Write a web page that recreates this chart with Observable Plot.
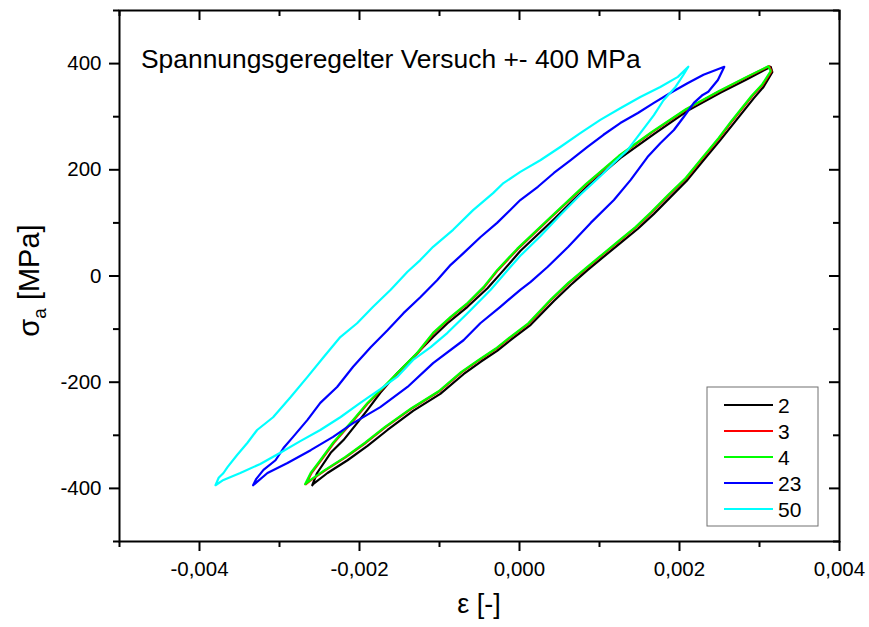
<!DOCTYPE html>
<html><head><meta charset="utf-8">
<script src="https://cdn.jsdelivr.net/npm/d3@7"></script>
<script src="https://cdn.jsdelivr.net/npm/@observablehq/plot@0.6"></script>
<style>body{margin:0;background:#fff;}</style>
</head><body><div id="chart"></div>
<script>
const cycles = ["2", "3", "4", "23", "50"];
const colors = ["#000000", "#ff0000", "#00ff00", "#0000ff", "#00ffff"];
const xMajor = [-0.004, -0.002, 0, 0.002, 0.004];
const xMinor = [-0.005, -0.003, -0.001, 0.001, 0.003];
const yMajor = [-400, -200, 0, 200, 400];
const yMinor = [-500, -300, -100, 100, 300, 500];
const title = "Spannungsgeregelter Versuch +- 400 MPa";

const strain2 = [-0.00259,-0.00253,-0.00236,-0.00220,-0.00203,-0.00190,-0.00174,-0.00153,-0.00133,-0.00108,-0.00090,-0.00065,-0.00040,-0.00024,0.00001,0.00043,0.00085,0.00126,0.00168,0.00210,0.00251,0.00285,0.00314,
  0.00316,0.00305,0.00293,0.00268,0.00251,0.00230,0.00210,0.00189,0.00168,0.00148,0.00126,0.00105,0.00085,0.00064,0.00043,0.00014,-0.00008,-0.00028,-0.00049,-0.00070,-0.00099,-0.00133,-0.00165,-0.00190,-0.00215,-0.00240,-0.00258,-0.00259];
const stress2 = [-394,-371,-333,-309,-277,-252,-220,-183,-153,-115,-89,-58,-23,4,47,107,169,222,267,311,345,371,394,
  384,356,335,288,256,218,181,149,117,89,62,36,11,-17,-47,-92,-117,-141,-162,-185,-222,-254,-290,-320,-347,-371,-392,-394];

const strain3 = [-0.00267,-0.00260,-0.00248,-0.00232,-0.00207,-0.00189,-0.00169,-0.00148,-0.00127,-0.00107,-0.00085,-0.00064,-0.00044,-0.00027,-0.00002,0.00040,0.00084,0.00125,0.00166,0.00209,0.00250,0.00285,0.00312,
  0.00315,0.00304,0.00291,0.00266,0.00250,0.00229,0.00209,0.00187,0.00166,0.00146,0.00125,0.00104,0.00084,0.00062,0.00041,0.00012,-0.00009,-0.00029,-0.00050,-0.00072,-0.00100,-0.00134,-0.00167,-0.00192,-0.00217,-0.00242,-0.00262,-0.00267];
const stress3 = [-392,-371,-347,-314,-271,-239,-209,-177,-145,-107,-77,-51,-21,11,51,111,173,226,271,314,348,375,395,
  386,360,339,292,260,222,185,153,121,92,66,40,15,-13,-43,-89,-113,-137,-158,-181,-217,-249,-284,-314,-341,-365,-386,-392];

const strain4 = [-0.00268,-0.00261,-0.00249,-0.00233,-0.00208,-0.00190,-0.00170,-0.00149,-0.00128,-0.00108,-0.00086,-0.00065,-0.00045,-0.00028,-0.00003,0.00039,0.00083,0.00124,0.00165,0.00208,0.00249,0.00284,0.00311,
  0.00314,0.00303,0.00290,0.00265,0.00249,0.00228,0.00208,0.00186,0.00165,0.00145,0.00124,0.00103,0.00083,0.00061,0.00040,0.00011,-0.00010,-0.00030,-0.00051,-0.00073,-0.00101,-0.00135,-0.00168,-0.00193,-0.00218,-0.00243,-0.00263,-0.00268];
const stress4 = [-392,-371,-347,-314,-271,-239,-209,-177,-145,-107,-77,-51,-21,11,51,111,173,226,271,314,348,375,395,
  386,360,339,292,260,222,185,153,121,92,66,40,15,-13,-43,-89,-113,-137,-158,-181,-217,-249,-284,-314,-341,-365,-386,-392];

const strain23 = [-0.00333,-0.00329,-0.00320,-0.00305,-0.00295,-0.00283,-0.00265,-0.00249,-0.00228,-0.00208,-0.00186,-0.00165,-0.00145,-0.00124,-0.00103,-0.00086,-0.00070,-0.00049,-0.00028,0.00001,0.00023,0.00043,0.00064,0.00085,0.00105,0.00126,0.00148,0.00168,0.00189,0.00210,0.00230,0.00256,
  0.00248,0.00236,0.00229,0.00218,0.00205,0.00193,0.00176,0.00160,0.00139,0.00118,0.00089,0.00061,0.00035,0.00014,0.00001,-0.00024,-0.00049,-0.00070,-0.00108,-0.00140,-0.00174,-0.00208,-0.00233,-0.00261,-0.00290,-0.00315,-0.00333];
const stress23 = [-394,-382,-365,-347,-324,-303,-271,-239,-209,-171,-134,-102,-70,-40,-8,21,43,73,100,143,168,194,218,243,266,288,307,326,345,363,379,394,
  369,347,341,326,299,275,250,224,181,143,100,55,17,-11,-26,-58,-89,-121,-164,-209,-247,-277,-303,-328,-352,-371,-394];

const strain50 = [-0.00380,-0.00376,-0.00370,-0.00365,-0.00353,-0.00340,-0.00328,-0.00308,-0.00286,-0.00265,-0.00245,-0.00224,-0.00203,-0.00183,-0.00161,-0.00140,-0.00124,-0.00108,-0.00083,-0.00058,-0.00033,-0.00020,0.00001,0.00026,0.00051,0.00076,0.00101,0.00126,0.00151,0.00176,0.00198,0.00211,
  0.00205,0.00195,0.00180,0.00168,0.00151,0.00135,0.00118,0.00101,0.00076,0.00051,0.00026,0.00001,-0.00015,-0.00036,-0.00065,-0.00090,-0.00111,-0.00133,-0.00153,-0.00174,-0.00199,-0.00224,-0.00249,-0.00274,-0.00299,-0.00324,-0.00349,-0.00370,-0.00380];
const stress50 = [-394,-380,-371,-360,-337,-314,-290,-266,-228,-190,-153,-115,-89,-58,-26,8,30,55,87,124,156,175,196,218,243,269,294,316,337,356,375,394,
  379,356,331,303,269,237,213,188,153,115,75,38,11,-26,-70,-107,-134,-158,-190,-213,-239,-266,-290,-311,-333,-354,-371,-384,-394];

const series = [
  {cycle: "2", strain: strain2, stress: stress2},
  {cycle: "3", strain: strain3, stress: stress3},
  {cycle: "4", strain: strain4, stress: stress4},
  {cycle: "23", strain: strain23, stress: stress23},
  {cycle: "50", strain: strain50, stress: stress50}
];
const rows = series.flatMap(s => s.strain.map((e, i) => ({cycle: s.cycle, strain: e, stress: s.stress[i]})));

const W = 869, H = 627, mL = 119, mR = 30, mT = 10, mB = 86;
const plotW = W - mL - mR, plotH = H - mT - mB;
const font = "'Liberation Sans', Arial, sans-serif";
const fmtX = d => (d < 0 ? "-" : "") + Math.abs(d).toFixed(3).replace(".", ",");
const fmtY = d => (d < 0 ? "-" : "") + Math.abs(d);

const svg = Plot.plot({
  width: W, height: H, marginLeft: mL, marginRight: mR, marginTop: mT, marginBottom: mB,
  style: {fontFamily: font, background: "white", color: "black"},
  x: {domain: [-0.005, 0.004]},
  y: {domain: [-500, 500]},
  color: {domain: cycles, range: colors},
  marks: [
    Plot.line(rows, {x: "strain", y: "stress", z: "cycle", stroke: "cycle", strokeWidth: 2.2}),
    Plot.axisX(xMajor, {anchor: "bottom", tickSize: 10, tickPadding: 10, tickFormat: fmtX, fontSize: 20.5, strokeWidth: 2, label: null}),
    Plot.axisX(xMinor, {anchor: "bottom", tickSize: 6, tickFormat: () => "", strokeWidth: 2, label: null}),
    Plot.axisY(yMajor, {anchor: "left", tickSize: 10, tickPadding: 8, tickFormat: fmtY, fontSize: 20.5, strokeWidth: 2, label: null}),
    Plot.axisY(yMinor, {anchor: "left", tickSize: 6, tickFormat: () => "", strokeWidth: 2, label: null}),
    Plot.ruleX(xMajor, {x: d => d, insetBottom: plotH - 10, strokeWidth: 2}),
    Plot.ruleX(xMinor, {x: d => d, insetBottom: plotH - 6, strokeWidth: 2}),
    Plot.ruleY(yMajor, {y: d => d, insetLeft: plotW - 10, strokeWidth: 2}),
    Plot.ruleY(yMinor, {y: d => d, insetLeft: plotW - 6, strokeWidth: 2}),
    Plot.frame({strokeWidth: 2})
  ]
});

const s = d3.select(svg);
s.append("text").attr("x", mL + 22).attr("y", 68).attr("text-anchor", "start").attr("font-size", 26.4).attr("font-family", font).attr("fill", "black").text(title);
s.append("text").attr("x", mL + plotW / 2).attr("y", 613).attr("text-anchor", "middle").attr("font-size", 27).attr("font-family", font).attr("fill", "black").text("ε [-]");
const yl = s.append("text").attr("transform", `translate(39,${mT + plotH / 2 + 5}) rotate(-90)`).attr("text-anchor", "middle").attr("font-size", 29).attr("font-family", font).attr("fill", "black");
yl.append("tspan").text("σ");
yl.append("tspan").attr("font-size", 19).attr("dy", 7).text("a");
yl.append("tspan").attr("dy", -7).text(" [MPa]");

// legend
const lx = 707, ly = 387, lw = 111, lh = 139;
const lg = s.append("g");
lg.append("rect").attr("x", lx).attr("y", ly).attr("width", lw).attr("height", lh).attr("fill", "white").attr("stroke", "#707070").attr("stroke-width", 1);
cycles.forEach((c, i) => {
  const yy = ly + 18 + i * 26;
  lg.append("line").attr("x1", lx + 17).attr("x2", lx + 66).attr("y1", yy).attr("y2", yy).attr("stroke", colors[i]).attr("stroke-width", 2);
  lg.append("text").attr("x", lx + 71).attr("y", yy).attr("dy", "0.36em").attr("text-anchor", "start").attr("font-size", 21).attr("font-family", font).attr("fill", "black").text(c);
});

document.getElementById("chart").appendChild(svg);
</script>
</body></html>
